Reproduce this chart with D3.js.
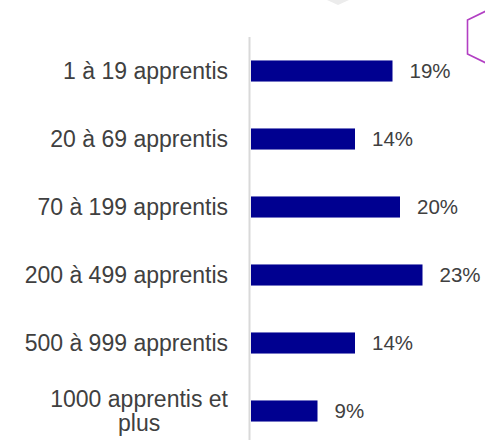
<!DOCTYPE html>
<html>
<head>
<meta charset="utf-8">
<script src="https://cdn.jsdelivr.net/npm/d3@7"></script>
<style>
  html, body { margin: 0; padding: 0; background: #fff; }
  svg { display: block; font-family: "Liberation Sans", Arial, sans-serif; }
</style>
</head>
<body>
<div id="chart"></div>
<script>
const categories = ['1 à 19 apprentis', '20 à 69 apprentis', '70 à 199 apprentis',
    '200 à 499 apprentis', '500 à 999 apprentis', '1000 apprentis et plus'];
const values = [19, 14, 20, 23, 14, 9];
// long labels are split over two lines like in the source
const labelLines = {
    '1000 apprentis et plus': ['1000 apprentis et', 'plus']
};

const W = 485, H = 440;

const svg = d3.select('#chart')
    .append('svg')
    .attr('width', W)
    .attr('height', H);

// decorations cut off at the top of the slide
svg.append('polygon')
    .attr('points', '327,0 349,0 338,5')
    .attr('fill', '#ececec');
svg.append('polyline')
    .attr('points', '486,11 467.5,20 467.5,54 486,63')
    .attr('fill', 'none')
    .attr('stroke', '#b23fc3')
    .attr('stroke-width', 1.6);

const x = d3.scaleLinear()
    .domain([0, 30])
    .range([250, 475]);

const y = d3.scaleBand()
    .domain(categories)
    .range([37, 445])
    .paddingInner(0.69)
    .paddingOuter(0.345);

// axis line
svg.append('line')
    .attr('x1', 249.5).attr('x2', 249.5)
    .attr('y1', y.range()[0]).attr('y2', y.range()[1])
    .attr('stroke', '#d9d9d9')
    .attr('stroke-width', 2);

svg.append('g')
    .selectAll('rect')
    .data(categories)
    .enter()
    .append('rect')
    .attr('x', x(0) + 1)
    .attr('y', d => y(d))
    .attr('width', (d, i) => x(values[i]) - x(0) - 1)
    .attr('height', y.bandwidth())
    .attr('fill', '#000090');

// value labels
svg.append('g')
    .selectAll('text')
    .data(categories)
    .enter()
    .append('text')
    .attr('x', (d, i) => x(values[i]) + 17)
    .attr('y', d => y(d) + y.bandwidth() / 2)
    .attr('dy', '0.36em')
    .attr('fill', '#404040')
    .style('font-size', '20.5px')
    .text((d, i) => values[i] + '%');

// category labels
const labelRight = 228;
const labels = svg.append('g')
    .selectAll('text')
    .data(categories)
    .enter()
    .append('text')
    .attr('fill', '#404040')
    .style('font-size', '23px');

labels.each(function(d) {
    const t = d3.select(this);
    const cy = y(d) + y.bandwidth() / 2;
    const lines = labelLines[d];
    if (!lines) {
        t.attr('x', labelRight)
            .attr('y', cy)
            .attr('dy', '0.36em')
            .attr('text-anchor', 'end')
            .text(d);
        return;
    }
    // measure the longest line to center the block under the right edge
    const probe = svg.append('text').style('font-size', '23px').text(lines[0]);
    const w = probe.node().getComputedTextLength();
    probe.remove();
    const lh = 24;
    lines.forEach((ln, k) => {
        t.append('tspan')
            .attr('x', labelRight - w / 2)
            .attr('y', cy + (k - (lines.length - 1) / 2) * lh)
            .attr('dy', '0.36em')
            .attr('text-anchor', 'middle')
            .text(ln);
    });
});
</script>
</body>
</html>
